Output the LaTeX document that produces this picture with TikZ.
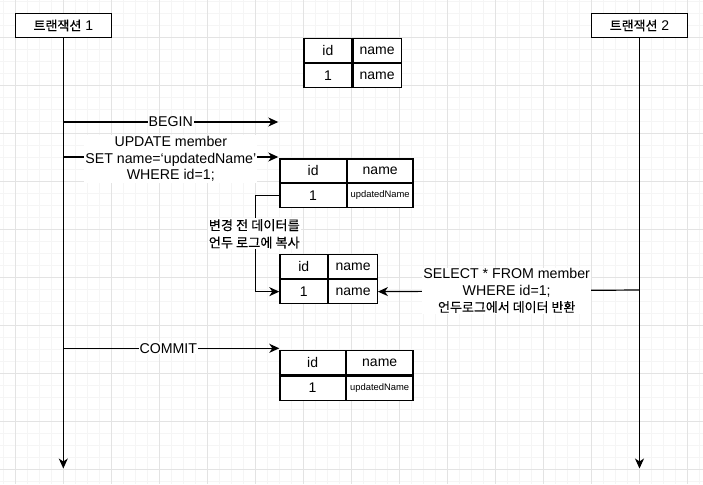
\documentclass[tikz,border=0pt]{standalone}
\usepackage{fontspec}
\setmainfont{Liberation Sans}
\newfontfamily\kr[FakeBold=0.2]{Noto Sans CJK KR}
\usetikzlibrary{arrows.meta}
\newcommand\dbtab[8]{%
  \node[cell,minimum width=#4pt,minimum height=#6pt,anchor=north west] (#1a) at (#2,#3) {id};
  \node[cell,minimum width=#5pt,minimum height=#6pt,anchor=north west] (#1b) at (#1a.north east) {name};
  \node[cell,minimum width=#4pt,minimum height=#6pt,anchor=north west] (#1c) at (#1a.south west) {#7};
  \node[cell,minimum width=#5pt,minimum height=#6pt,anchor=north west] (#1d) at (#1a.south east) {#8};}
\newcommand\smalltxt[1]{{\fontsize{9.4}{11}\selectfont #1}}
\begin{document}
\begin{tikzpicture}[x=1pt,y=-1pt,
  minorgrid/.style={draw=black!4,line width=0.8pt},
  majorgrid/.style={draw=black!11,line width=0.8pt},
  actor/.style={draw,fill=white,line width=1.2pt,minimum width=96pt,minimum height=24.4pt,inner sep=0pt,font=\fontsize{14}{15}\selectfont},
  life/.style={line width=1.2pt,-{Stealth[length=10pt,width=9pt,inset=3pt]}},
  arr/.style={line width=1.2pt,-{Stealth[length=10pt,width=9pt,inset=3pt]}},
  cell/.style={draw,fill=white,line width=1.2pt,inner sep=0pt,font=\fontsize{14}{16.5}\selectfont},
  lab/.style={fill=white,align=center,inner sep=1pt,font=\fontsize{14.2}{16.5}\selectfont},
  krlab/.style={fill=white,align=center,inner sep=1pt,font=\kr\fontsize{13.2}{17.3}\selectfont}]
\fill[white] (0,0) rectangle (703,484);
\useasboundingbox (0,0) rectangle (703,484);
% grid
\foreach \i in {0,...,58} \draw[minorgrid] ({3.3+12*\i},0) -- ({3.3+12*\i},484);
\foreach \i in {0,...,40} \draw[minorgrid] (0,{1.3+12*\i}) -- (703,{1.3+12*\i});
\foreach \i in {0,...,14} \draw[majorgrid] ({15.3+48*\i},0) -- ({15.3+48*\i},484);
\foreach \i in {0,...,9} \draw[majorgrid] (0,{37.3+48*\i}) -- (703,{37.3+48*\i});
% actors
\node[actor] (t1) at (63.3,25.5) {{\kr\fontsize{13}{15}\selectfont 트랜잭션} 1};
\node[actor] (t2) at (639.5,25.5) {{\kr\fontsize{13}{15}\selectfont 트랜잭션} 2};
\coordinate (e1) at (63.3,468.5);
\coordinate (e2) at (639.5,468.5);
\draw[life] (t1) -- (e1);
\draw[life] (t2) -- (e2);
% tables
\dbtab{ta}{303.3}{37.7}{48}{48}{24.2}{1}{name}
\dbtab{tb}{279.3}{158.3}{66.4}{65.4}{23.5}{1}{\smalltxt{updatedName}}
\dbtab{tc}{279.3}{254}{47.7}{48.5}{23.9}{1}{name}
\dbtab{td}{279.3}{350}{65.4}{66.4}{24.2}{1}{\smalltxt{updatedName}}
% points on lifelines
\coordinate (p1) at (63.3,122);
\coordinate (q1) at (278.3,122);
\coordinate (p2) at (63.3,157);
\coordinate (q2) at (278.3,157);
\coordinate (p3) at (63.3,348.3);
\coordinate (q3) at (279.3,348.3);
\coordinate (p4) at (639.5,290);
% messages
\draw[arr] (p1) -- (q1) node[lab,midway] {BEGIN};
\draw[arr] (p2) -- (q2) node[lab,midway,yshift=-2pt] {UPDATE member\\SET name=‘updatedName’\\WHERE id=1;};
\draw[arr] (tbc.west) -- ++(-24,0) |- (tcc.west) node[krlab,pos=0.2,xshift=-1pt] {변경 전 데이터를\\언두 로그에 복사};
\draw[arr] (p4) -- (tcd.east) node[lab,midway,xshift=-2pt] {SELECT * FROM member\\WHERE id=1;\\{\kr\fontsize{13}{16.5}\selectfont 언두로그에서 데이터 반환}};
\draw[arr] (p3) -- (q3) node[lab,midway,xshift=-3pt] {COMMIT};
\end{tikzpicture}
\end{document}
